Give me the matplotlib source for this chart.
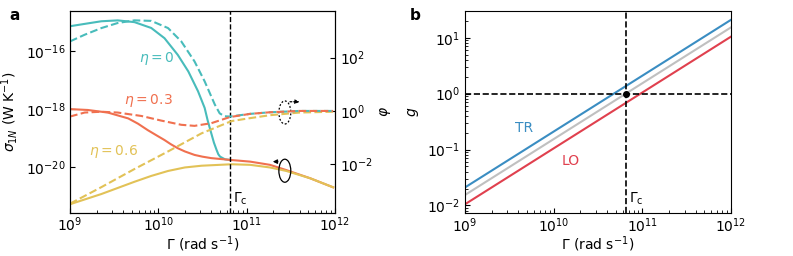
import numpy as np
import matplotlib
matplotlib.use("Agg")
import matplotlib.pyplot as plt
from matplotlib.patches import Ellipse
from matplotlib.ticker import LogLocator, NullLocator, FixedLocator

# ── data (log10 values) ──────────────────────────────────────────────────────
GAMMA_C = 6.5e10

# panel a, solid curves: sigma_1N (left axis)
s0_lg = [9.0, 9.166, 9.355, 9.54, 9.73, 9.92, 10.07, 10.22, 10.34, 10.45, 10.525,
         10.56, 10.6, 10.63, 10.66, 10.68, 10.7, 10.755, 10.81]
s0_lv = [-15.16, -15.08, -14.99, -14.96, -15.02, -15.22, -15.57, -16.14, -16.71, -17.39, -17.96,
         -18.4, -18.83, -19.15, -19.4, -19.55, -19.63, -19.72, -19.74]

s3_lg = [9.0, 9.2, 9.43, 9.66, 9.77, 9.88, 9.98, 10.07, 10.14, 10.22, 10.3, 10.41, 10.5,
         10.6, 10.81, 11.04, 11.265, 11.45, 11.72, 11.98]
s3_lv = [-18.0, -18.03, -18.12, -18.32, -18.5, -18.72, -18.9, -19.06, -19.2, -19.34, -19.45, -19.57, -19.63,
         -19.68, -19.74, -19.8, -19.91, -20.09, -20.37, -20.68]

s6_lg = [9.0, 9.355, 9.73, 9.92, 10.11, 10.3, 10.49, 10.83, 11.04, 11.265, 11.45, 11.72, 11.98]
s6_lv = [-21.26, -20.91, -20.49, -20.29, -20.12, -20.0, -19.94, -19.89, -19.91, -20.0, -20.12, -20.37, -20.68]

# panel a, dashed curves: phi (right axis)
p0_lg = [9.0, 9.166, 9.355, 9.54, 9.73, 9.92, 10.11, 10.26, 10.41, 10.525, 10.64, 10.695,
         10.75, 10.81, 11.04, 11.265, 11.6, 11.98]
p0_lv = [2.61, 2.86, 3.11, 3.30, 3.40, 3.38, 3.11, 2.61, 1.86, 1.11, 0.24, -0.09,
         -0.2, -0.21, -0.11, -0.05, 0.0, 0.0]

p3_lg = [9.0, 9.166, 9.355, 9.54, 9.81, 10.03, 10.26, 10.41, 10.6, 10.81, 11.04, 11.265,
         11.6, 11.98]
p3_lv = [-0.21, -0.06, -0.03, -0.06, -0.19, -0.36, -0.52, -0.56, -0.46, -0.23, -0.11, -0.05,
         0.0, 0.0]

p6_lg = [9.0, 9.355, 9.73, 10.11, 10.49, 10.83, 11.04, 11.265, 11.6, 11.98]
p6_lv = [-3.48, -2.86, -2.18, -1.52, -0.84, -0.38, -0.27, -0.16, -0.06, -0.03]

# panel b: coupling g
g_gamma = [1e9, 1e12]
g_tr = [0.021, 21.0]
g_mid = [1e9 / GAMMA_C, 1e12 / GAMMA_C]
g_lo = [0.0105, 10.5]

C_CYAN, C_ORNG, C_YELL = "#48bcbb", "#f0704f", "#e2c257"
C_TR, C_MID, C_LO = "#3a8dc2", "#c0c0c0", "#e0404e"
LW = 1.5
FS = 10


def p10(a):
    return 10.0 ** np.asarray(a)


fig = plt.figure(figsize=(7.93, 2.56), dpi=100)
ax = fig.add_axes([0.0883, 0.168, 0.334, 0.790])
axr = ax.twinx()

# ── panel a ─────────────────────────────────────────────────────────────────
ax.plot(p10(s0_lg), p10(s0_lv), color=C_CYAN, lw=LW)
ax.plot(p10(s3_lg), p10(s3_lv), color=C_ORNG, lw=LW)
ax.plot(p10(s6_lg), p10(s6_lv), color=C_YELL, lw=LW)
axr.plot(p10(p6_lg), p10(p6_lv), color=C_YELL, lw=LW, ls="--")
axr.plot(p10(p0_lg), p10(p0_lv), color=C_CYAN, lw=LW, ls="--")
axr.plot(p10(p3_lg), p10(p3_lv), color=C_ORNG, lw=LW, ls="--")

for a in (ax, axr):
    a.set_xscale("log")
    a.set_yscale("log")
ax.set_xlim(1e9, 1e12)
ax.set_ylim(10 ** -21.56, 10 ** -14.63)
axr.set_ylim(10 ** -3.83, 10 ** 3.76)
ax.axvline(GAMMA_C, color="black", lw=1.0, ls="--", zorder=5)

ax.yaxis.set_major_locator(FixedLocator([1e-20, 1e-18, 1e-16]))
ax.yaxis.set_minor_locator(NullLocator())
axr.yaxis.set_major_locator(FixedLocator([1e-2, 1e0, 1e2]))
axr.yaxis.set_minor_locator(NullLocator())
ax.xaxis.set_major_locator(LogLocator(base=10, numticks=10))
ax.xaxis.set_minor_locator(LogLocator(base=10, subs=np.arange(2, 10), numticks=10))
ax.tick_params(which="both", direction="in", labelsize=FS)
ax.tick_params(axis="x", pad=2)
axr.tick_params(which="both", direction="in", labelsize=FS)
ax.set_xlabel(r"$\Gamma$ (rad s$^{-1}$)", fontsize=FS, labelpad=0)
ax.set_ylabel(r"$\sigma_{1N}$ (W K$^{-1}$)", fontsize=FS)
axr.set_ylabel(r"$\varphi$", fontsize=FS)

ax.text(10 ** 9.985, 10 ** -16.25, r"$\eta = 0$", color=C_CYAN, fontsize=FS, ha="center", va="center")
ax.text(10 ** 9.89, 10 ** -17.69, r"$\eta = 0.3$", color=C_ORNG, fontsize=FS, ha="center", va="center")
ax.text(10 ** 9.49, 10 ** -19.46, r"$\eta = 0.6$", color=C_YELL, fontsize=FS, ha="center", va="center")
ax.text(GAMMA_C * 1.08, 0.03, r"$\Gamma_{\rm c}$", transform=ax.get_xaxis_transform(), fontsize=FS, ha="left", va="bottom")

# axis-indicator ellipses with arrows
ax.add_patch(Ellipse((0.811, 0.209), 0.045, 0.114, transform=ax.transAxes,
                     fill=False, ec="black", lw=0.9, zorder=6))
ax.annotate("", xy=(0.755, 0.254), xytext=(0.795, 0.254), xycoords="axes fraction",
            arrowprops=dict(arrowstyle="-|>", color="black", lw=0.9, mutation_scale=6))
ax.add_patch(Ellipse((0.811, 0.497), 0.045, 0.114, transform=ax.transAxes,
                     fill=False, ec="black", lw=0.9, ls=(0, (1.5, 1.5)), zorder=6))
ax.annotate("", xy=(0.877, 0.55), xytext=(0.82, 0.55), xycoords="axes fraction",
            arrowprops=dict(arrowstyle="-|>", color="black", lw=0.9, ls=(0, (1.5, 1.5)), mutation_scale=6))

fig.text(0.012, 0.94, "a", fontsize=11, fontweight="bold", va="center")

# ── panel b ─────────────────────────────────────────────────────────────────
bx = fig.add_axes([0.5864, 0.167, 0.3354, 0.790])
bx.plot(g_gamma, g_mid, color=C_MID, lw=LW)
bx.plot(g_gamma, g_tr, color=C_TR, lw=LW)
bx.plot(g_gamma, g_lo, color=C_LO, lw=LW)
bx.set_xscale("log")
bx.set_yscale("log")
bx.set_xlim(1e9, 1e12)
bx.set_ylim(10 ** -2.14, 10 ** 1.48)
bx.axvline(GAMMA_C, color="black", lw=1.2, ls="--", zorder=4)
bx.axhline(1.0, color="black", lw=1.2, ls="--", zorder=4)
bx.plot([GAMMA_C], [1.0], "o", color="black", ms=4, zorder=6)
bx.xaxis.set_major_locator(LogLocator(base=10, numticks=10))
bx.xaxis.set_minor_locator(LogLocator(base=10, subs=np.arange(2, 10), numticks=10))
bx.yaxis.set_major_locator(LogLocator(base=10, numticks=10))
bx.yaxis.set_minor_locator(LogLocator(base=10, subs=np.arange(2, 10), numticks=10))
bx.tick_params(which="both", direction="in", labelsize=FS)
bx.tick_params(axis="x", pad=2)
bx.set_xlabel(r"$\Gamma$ (rad s$^{-1}$)", fontsize=FS, labelpad=0)
bx.set_ylabel(r"$g$", fontsize=FS)
bx.text(10 ** 9.665, 10 ** -0.61, "TR", color=C_TR, fontsize=FS, ha="center", va="center")
bx.text(10 ** 10.195, 10 ** -1.2, "LO", color=C_LO, fontsize=FS, ha="center", va="center")
bx.text(GAMMA_C * 1.08, 0.03, r"$\Gamma_{\rm c}$", transform=bx.get_xaxis_transform(), fontsize=FS, ha="left", va="bottom")

fig.text(0.517, 0.94, "b", fontsize=11, fontweight="bold", va="center")

fig.savefig("out.png", dpi=100)
